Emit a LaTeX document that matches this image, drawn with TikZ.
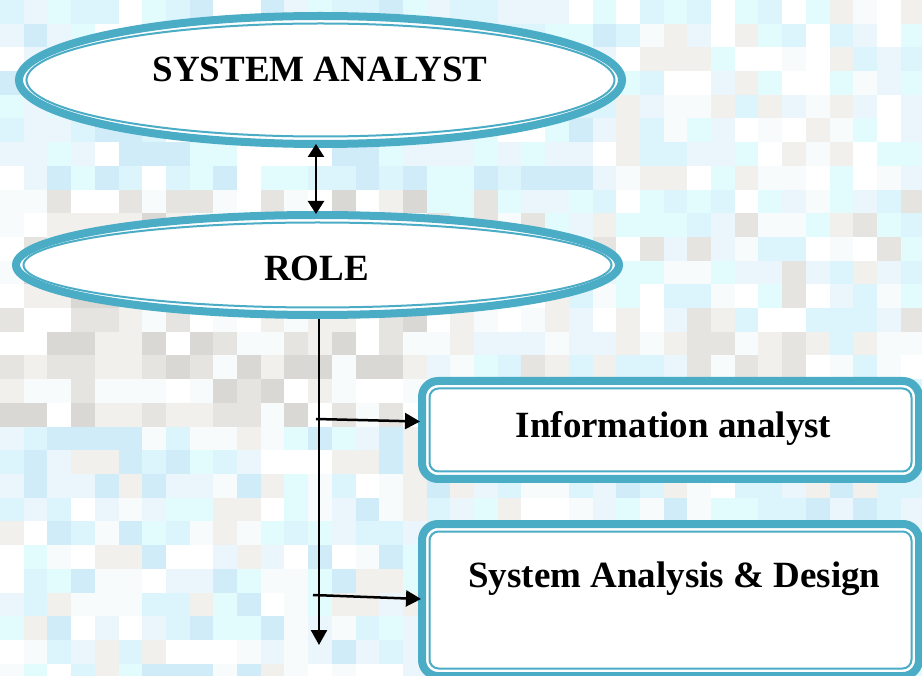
\documentclass[tikz,border=0pt]{standalone}
\usepackage{fontspec}
\setmainfont{Liberation Serif}
\usetikzlibrary{arrows.meta,shapes.geometric}
\definecolor{band}{HTML}{4BACC6}
\definecolor{mz1}{HTML}{D0ECF9}
\definecolor{mz2}{HTML}{DCF4FB}
\definecolor{mz3}{HTML}{E2FCFD}
\definecolor{mz4}{HTML}{EAF6FC}
\definecolor{mz5}{HTML}{FFFFFF}
\definecolor{mz6}{HTML}{F7FBFC}
\definecolor{mz7}{HTML}{F2F0EC}
\definecolor{mz8}{HTML}{E6E4E0}
\definecolor{mz9}{HTML}{DAD8D4}
\tikzset{
  bandellipse/.style={ellipse, draw=band, line width=8pt, fill=white, inner sep=0pt},
  bandbox/.style={rectangle, draw=band, line width=8pt, fill=white, rounded corners=16pt, inner sep=0pt},
  thinline/.style={draw=band, line width=2pt},
  lbl/.style={font=\bfseries\fontsize{37}{44}\selectfont, anchor=base, inner sep=0pt},
  conn/.style={line width=2.5pt, black, arrows={-Triangle[length=15pt,width=16pt]}},
  dconn/.style={line width=2.5pt, black, arrows={Triangle[length=13pt,width=16pt]-Triangle[length=13pt,width=16pt]}}
}
\begin{document}
\begin{tikzpicture}[x=1pt,y=-1pt]
\useasboundingbox (0,0) rectangle (922,676);
\clip (0,0) rectangle (922,676);
% mosaic background
\pgfmathsetseed{11}
\foreach \i in {0,...,38}{
  \foreach \j in {0,...,28}{
    \pgfmathtruncatemacro{\lo}{\j<8 ? (\i<26 ? 1 : 2) : (\j<18 ? (\i<18 ? 5 : 2) : 1)}
    \pgfmathtruncatemacro{\hi}{\j<8 ? (\i<26 ? 5 : 7) : (\j<18 ? (\i<18 ? 9 : 8) : 7)}
    \pgfmathrandominteger{\mzc}{\lo}{\hi}
    \fill[mz\mzc] (\i*23.7,\j*23.7) rectangle ++(23.8,23.8);
  }
}
% ellipses
\node[bandellipse, minimum width=603pt, minimum height=128pt] (sa) at (320.5,80) {};
\draw[thinline] (sa.center) ellipse [x radius=294, y radius=56.5];
\node[bandellipse, minimum width=603pt, minimum height=100pt] (role) at (317.5,265) {};
\draw[thinline] (role.center) ellipse [x radius=294, y radius=42.5];
% boxes
\node[bandbox, minimum width=497pt, minimum height=98pt] (ia) at (670.5,430) {};
\draw[thinline, rounded corners=9pt] (429.5,388.5) rectangle (911.5,471.5);
\node[bandbox, minimum width=497pt, minimum height=152pt] (sad) at (670.5,600) {};
\draw[thinline, rounded corners=9pt] (429.5,531.5) rectangle (911.5,668.5);
% texts
\node[lbl] (saT) at (320,82) {SYSTEM ANALYST};
\node[lbl] (roleT) at (316.5,281) {ROLE};
\node[lbl] (iaT) at (673.5,438) {Information analyst};
\node[lbl] (sadT) at (674.5,587) {System Analysis \& Design};
% connectors
\coordinate (ax) at (316,0);
\coordinate (vx) at (319,0);
\coordinate (vend) at (319,645);
\coordinate (b1) at (316,419);
\coordinate (b2) at (313,595);
\draw[dconn] ([yshift=4pt]sa.south -| ax) -- ([yshift=-3pt]role.north -| ax);
\draw[conn] (role.south -| vx) -- (vend);
\draw[conn] (b1) -- ([xshift=2pt,yshift=8.5pt]ia.west);
\draw[conn] (b2) -- ([xshift=3pt,yshift=1pt]sad.west);
\end{tikzpicture}
\end{document}
